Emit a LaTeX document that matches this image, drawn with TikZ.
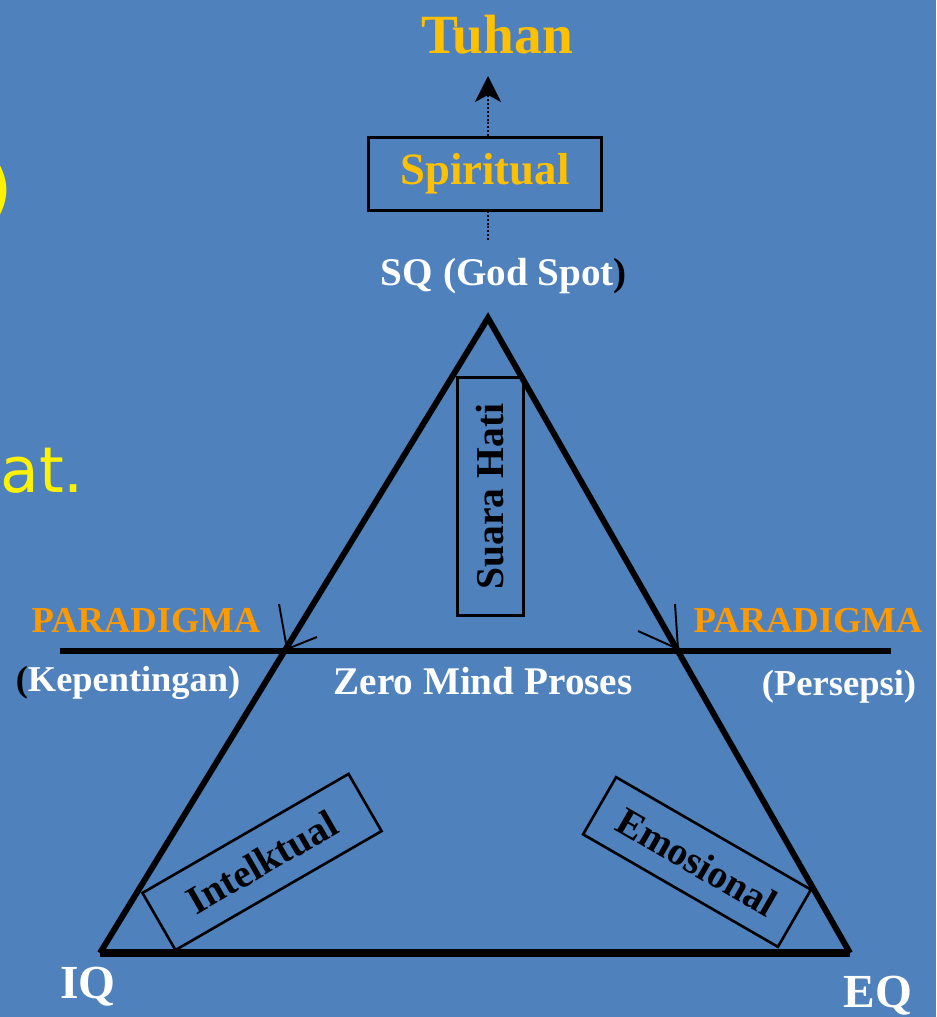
\documentclass[tikz,border=0pt]{standalone}
\usepackage{fontspec}
\setmainfont{Liberation Serif}
\newfontfamily\slidefont{DejaVu Sans}
\usetikzlibrary{arrows.meta,positioning}
\definecolor{slideblue}{RGB}{79,129,189}
\definecolor{gold}{RGB}{255,192,0}
\definecolor{paraorange}{RGB}{255,153,0}
\begin{document}
\begin{tikzpicture}[x = 0.02cm, y = -0.02cm,
	qbox/.style = {draw = black, line width = 1.5pt, minimum width = 4.76cm, minimum height = 1.32cm, inner sep = 0pt, font = \bfseries\fontsize{22.5}{26}\selectfont},
	whitelbl/.style = {white, font = \bfseries\fontsize{21}{25}\selectfont},
	paralbl/.style = {paraorange, font = \bfseries\fontsize{20.8}{25}\selectfont},
	thinarrow/.style = {line width = 1.1pt}]
	\fill [slideblue] (0, 0) rectangle (936, 1017);
	\useasboundingbox (0, 0) rectangle (936, 1017);
	% leftovers of the slide text
	\node[anchor = east, yellow, inner sep = 0pt, font = \slidefont\fontsize{40}{44}\selectfont] (paren) at (13, 190) {)};
	\node[anchor = base west, yellow, inner sep = 0pt, font = \slidefont\fontsize{36}{40}\selectfont] (atdot) at (0, 492) {at.};
	% top
	\node[gold, font = \bfseries\fontsize{31.5}{36}\selectfont] (tuhan) at (497, 35) {Tuhan};
	\node[draw = black, line width = 1.7pt, minimum width = 4.68cm, minimum height = 1.46cm, text = gold, font = \bfseries\fontsize{25.5}{30}\selectfont] (spir) at (485, 174) {Spiritual};
	\node[whitelbl, font = \bfseries\fontsize{22.3}{26}\selectfont] (sq) at (504, 276) {SQ (God Spot\textcolor{black}{)}};
	\coordinate (godtop) at (488, 240);
	\coordinate (up) at (488, 76);
	\draw[line width = 1.1pt, dash pattern = on 1.1pt off 1.1pt] (godtop) -- (godtop |- spir.south);
	\draw[line width = 1.1pt, dash pattern = on 1.1pt off 1.1pt, -{Stealth[length = 0.52cm, width = 0.52cm, inset = 0.14cm]}] (godtop |- spir.north) -- (up);
	% triangle
	\coordinate (top) at (488, 318);
	\coordinate (bl) at (100, 953);
	\coordinate (br) at (850, 953);
	\draw[line width = 3.4pt] (bl) -- (top) -- (br);
	\draw[line width = 4.5pt] (bl) -- (br);
	% zero mind line
	\coordinate (zl) at (60, 651);
	\coordinate (zr) at (891, 651);
	\coordinate (xl) at (287, 649);
	\coordinate (xr) at (678, 649);
	\draw[line width = 3.8pt] (zl) -- (zr);
	\draw[thinarrow] (279, 604) -- (xl);
	\draw[thinarrow] (xl) -- ++(30, -12);
	\draw[thinarrow] (675, 604) -- (xr);
	\draw[thinarrow] (xr) -- ++(-40, -18);
	\node[paralbl] (paraL) at (146, 621) {PARADIGMA};
	\node[paralbl] (paraR) at (808, 621) {PARADIGMA};
	\node[whitelbl, font = \bfseries\fontsize{20.7}{25}\selectfont] (kep) at (128, 683) {\textcolor{black}{(}Kepentingan)};
	\node[whitelbl, font = \bfseries\fontsize{22.3}{26}\selectfont] (zero) at (483, 681) {Zero Mind Proses};
	\node[whitelbl, font = \bfseries\fontsize{20.8}{25}\selectfont] (pers) at (839, 687) {(Persepsi)};
	% boxes
	\node[qbox, rotate = 90] (hati) at (490.5, 496.5) {Suara Hati};
	\node[qbox, rotate = 30] (intel) at (262, 862) {Intelktual};
	\node[qbox, rotate = -30, minimum width = 4.5cm] (emo) at (697, 862) {Emosional};
	% corners
	\node[whitelbl, font = \bfseries\fontsize{27}{31}\selectfont] (iq) at (88, 987) {IQ};
	\node[whitelbl, font = \bfseries\fontsize{27}{31}\selectfont] (eq) at (878, 996) {EQ};
\end{tikzpicture}
\end{document}
